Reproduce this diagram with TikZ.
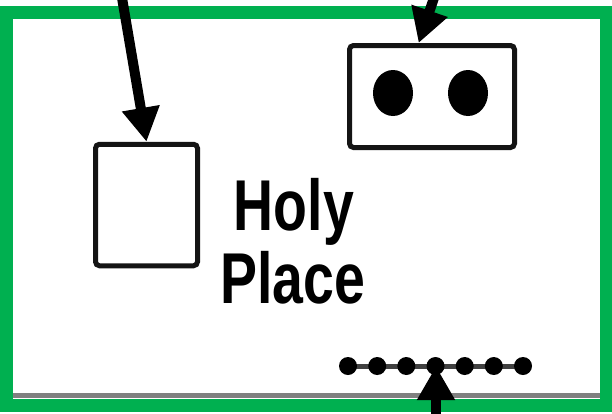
\documentclass[tikz,border=0pt]{standalone}
\usepackage{fontspec}
\usetikzlibrary{arrows.meta}
\newfontfamily\condfont[FakeStretch=0.77]{Liberation Sans}
\definecolor{framegreen}{RGB}{0,176,80}
\begin{document}
\begin{tikzpicture}[x=1pt,y=-1pt,
  box/.style={draw=black!92, line width=5pt, rounded corners=4pt, inner sep=0pt},
  ptr/.style={line width=10pt, -{Triangle[width=36pt,length=34pt]}},
  lbl/.style={font=\condfont\bfseries\fontsize{72}{73}\selectfont, inner sep=0pt, anchor=base, text=black},
  dot/.style={fill=black}]
\useasboundingbox (0,0) rectangle (612,413);
\fill[white] (0,0) rectangle (612,413);
% scan edge line
\draw[black!50, line width=5pt] (12,395) -- (600,395);
% green frame
\draw[framegreen, line width=13pt] (6,12) rectangle (606,405.5);
% shapes
\node[box, minimum width=102pt, minimum height=121.5pt] (sq) at (146.5,205) {};
\node[box, minimum width=165pt, minimum height=102pt] (lamp) at (432,96.5) {};
\fill[dot] (393,93) ellipse [x radius=20pt, y radius=23pt];
\fill[dot] (468,93) ellipse [x radius=20pt, y radius=23pt];
% label
\node[lbl] (holy) at (294,230) {Holy};
\node[lbl] (place) at (292.5,303) {Place};
% dotted row
\node[inner sep=0pt, minimum width=180pt, minimum height=2pt] (row) at (436,365) {};
\draw[black!75, line width=5pt] (348,366) -- (523,366);
\foreach \x in {348,377.2,406.3,435.5,464.7,493.8,523}
  \fill[dot] (\x,366) circle [radius=9pt];
% arrows
\coordinate (s1) at (121,-8);
\coordinate (s2) at (436,-8);
\coordinate (s3) at (436,425);
\draw[ptr] (s1) -- (sq.north);
\draw[ptr] (s2) -- (lamp.104);
\draw[ptr] (s3) -- (row.south);
\end{tikzpicture}
\end{document}
